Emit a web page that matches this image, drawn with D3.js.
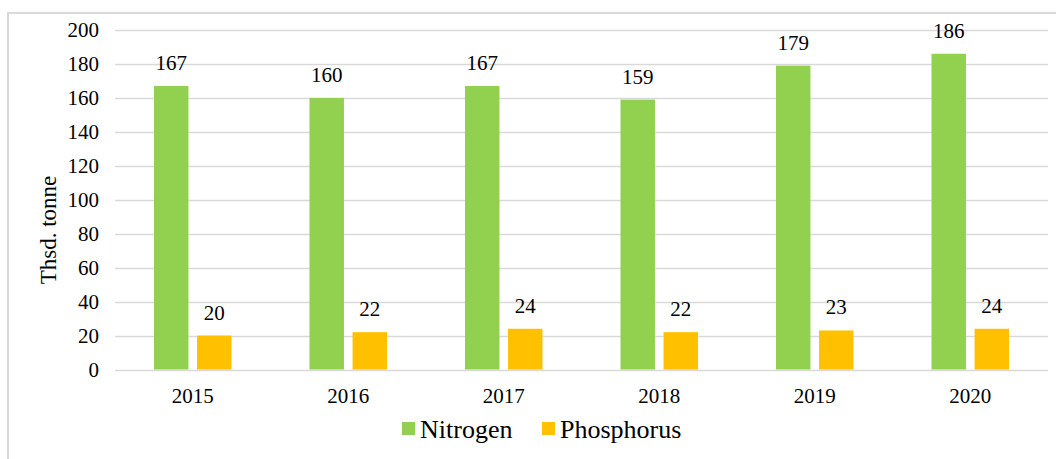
<!DOCTYPE html>
<html lang="en">
	<head>
		<meta charset="utf-8">
		<title>Nitrogen and phosphorus</title>
		<script type="text/javascript" src="https://cdn.jsdelivr.net/npm/d3@7"></script>
		<style type="text/css">
			body { margin: 0; background: #fff; }
		</style>
	</head>
	<body>
		<script type="text/javascript">

			//Data
			var years = ["2015", "2016", "2017", "2018", "2019", "2020"];
			var nitrogen = [167, 160, 167, 159, 179, 186];
			var phosphorus = [20, 22, 24, 22, 23, 24];
			var seriesNames = ["Nitrogen", "Phosphorus"];
			var seriesColors = ["#92d050", "#ffc000"];
			var yTicks = [0, 20, 40, 60, 80, 100, 120, 140, 160, 180, 200];

			//Width and height
			var w = 1056;
			var h = 459;
			var plotLeft = 115, plotRight = 1048, plotTop = 30, plotBottom = 369.5;
			var serif = "'Liberation Serif', 'Times New Roman', serif";

			var svg = d3.select("body")
						.append("svg")
						.attr("width", w)
						.attr("height", h);

			//Frame
			svg.append("rect")
				.attr("x", 8)
				.attr("y", 13)
				.attr("width", 1060)
				.attr("height", 460)
				.attr("fill", "none")
				.attr("stroke", "#d9d9d9")
				.attr("stroke-width", 2);

			var xScale = d3.scaleBand()
							.domain(years)
							.range([plotLeft, plotRight]);

			var xInner = d3.scaleBand()
							.domain(seriesNames)
							.range([39, xScale.bandwidth() - 39])
							.paddingInner(0.2);

			var yScale = d3.scaleLinear()
							.domain([0, 200])
							.range([plotBottom, plotTop]);

			//Gridlines
			svg.append("g")
				.selectAll("line")
				.data(yTicks)
				.enter()
				.append("line")
				.attr("x1", plotLeft)
				.attr("x2", plotRight)
				.attr("y1", function(d) { return Math.round(yScale(d)) + 0.5; })
				.attr("y2", function(d) { return Math.round(yScale(d)) + 0.5; })
				.attr("stroke", "#d9d9d9")
				.attr("stroke-width", 1.5);

			//Y axis labels
			var yAxis = d3.axisLeft(yScale).tickValues(yTicks).tickSize(0).tickPadding(0);
			var gy = svg.append("g")
				.attr("transform", "translate(99,0)")
				.call(yAxis);
			gy.select(".domain").remove();
			gy.selectAll("text")
				.style("font-family", serif)
				.style("font-size", "21px")
				.attr("fill", "#000")
				.attr("dy", "0.33em");

			//X axis labels
			var xAxis = d3.axisBottom(xScale).tickSize(0).tickPadding(0);
			var gx = svg.append("g")
				.attr("transform", "translate(0," + (plotBottom + 26) + ")")
				.call(xAxis);
			gx.select(".domain").remove();
			gx.selectAll("text")
				.style("font-family", serif)
				.style("font-size", "21px")
				.attr("fill", "#000")
				.attr("dy", "0.35em");

			//Bars
			var rows = years.map(function(y, i) {
				return [
					{ year: y, name: seriesNames[0], value: nitrogen[i], color: seriesColors[0] },
					{ year: y, name: seriesNames[1], value: phosphorus[i], color: seriesColors[1] }
				];
			});

			var groups = svg.append("g")
				.selectAll("g")
				.data(rows)
				.enter()
				.append("g")
				.attr("transform", function(d, i) {
					return "translate(" + xScale(years[i]) + ",0)";
				});

			groups.selectAll("rect")
				.data(function(d) { return d; })
				.enter()
				.append("rect")
				.attr("x", function(d) { return xInner(d.name); })
				.attr("y", function(d) { return yScale(d.value); })
				.attr("width", xInner.bandwidth())
				.attr("height", function(d) { return plotBottom - yScale(d.value); })
				.attr("fill", function(d) { return d.color; });

			groups.selectAll("text")
				.data(function(d) { return d; })
				.enter()
				.append("text")
				.text(function(d) { return d.value; })
				.attr("text-anchor", "middle")
				.attr("x", function(d) { return xInner(d.name) + xInner.bandwidth() / 2; })
				.attr("y", function(d) { return yScale(d.value) - 16; })
				.style("font-family", serif)
				.style("font-size", "21px");

			//Y axis title
			svg.append("text")
				.attr("transform", "translate(56,230) rotate(-90)")
				.attr("text-anchor", "middle")
				.style("font-family", serif)
				.style("font-size", "23px")
				.text("Thsd. tonne");

			//Legend
			var legendX = [402, 542];
			var legend = svg.append("g")
				.selectAll("g")
				.data(seriesNames)
				.enter()
				.append("g")
				.attr("transform", function(d, i) {
					return "translate(" + legendX[i] + ",422)";
				});

			legend.append("rect")
				.attr("width", 13)
				.attr("height", 13)
				.attr("fill", function(d, i) { return seriesColors[i]; });

			legend.append("text")
				.attr("x", 18)
				.attr("y", 16)
				.style("font-family", serif)
				.style("font-size", "26px")
				.text(function(d) { return d; });

		</script>
	</body>
</html>
